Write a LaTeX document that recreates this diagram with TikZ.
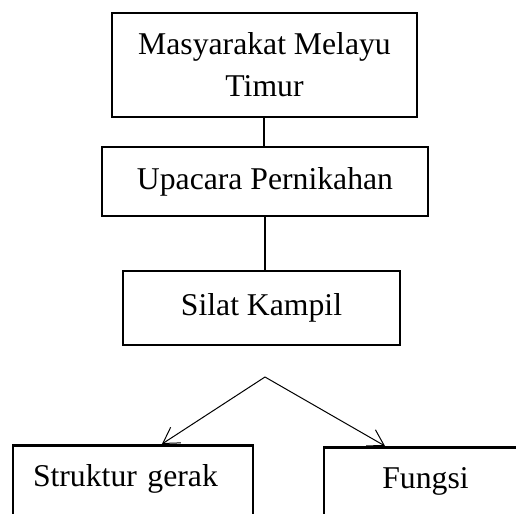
\documentclass[tikz,border=0pt]{standalone}
\usepackage{fontspec}
\setmainfont{Liberation Serif}
\usetikzlibrary{arrows.meta}

\tikzstyle{box}=[
    rectangle,
    draw=black,
    line width=1.3pt,
    align=center,
    inner sep=0pt,
    font=\fontsize{15.85}{21}\selectfont
]
\tikzstyle{leaf}=[
    box,
    anchor=north,
    text height=20.5pt,
    text depth=40pt,
    inner xsep=10pt
]

\begin{document}
\begin{tikzpicture}[x=0.5pt,y=-0.5pt,>={Straight Barb[length=7.7pt,width=9.3pt]}]
	\useasboundingbox (0,0) rectangle (516,514);
	% TOP CHAIN
	\node (mmt) [box,minimum width=152.5pt,minimum height=52pt] at (264.5,65) {Masyarakat Melayu\\Timur};
	\node (upacara) [box,minimum width=163pt,minimum height=34.5pt] at (265,181.5) {Upacara Pernikahan};
	\node (silat) [box,minimum width=138.5pt,minimum height=37pt] at (261.5,308) {Silat Kampil};
	% SPLIT
	\coordinate (split) at (265,377);
	\node (struktur) [leaf,text width=100pt,align=left] at (133,444) {Struktur gerak};
	\node (fungsi) [leaf,text width=81.5pt] at (425.5,446) {Fungsi};

	% vertical connections
	\draw[line width=1pt] (mmt.south) -- (mmt.south |- upacara.north);
	\draw[line width=1pt] (upacara.south) -- (upacara.south |- silat.north);

	% arrows from split to leaves
	\draw[->,line width=0.5pt] (split) -- ([xshift=14.5pt]struktur.north);
	\draw[->,line width=0.5pt] (split) -- ([xshift=-20.25pt]fungsi.north);
\end{tikzpicture}
\end{document}
